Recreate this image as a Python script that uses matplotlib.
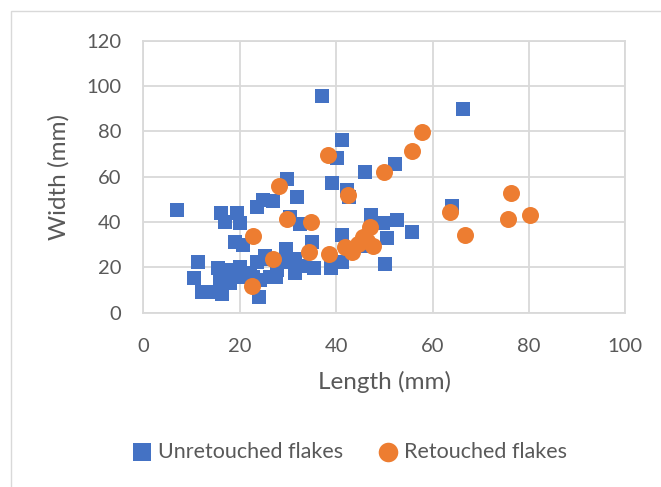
import matplotlib.pyplot as plt
from matplotlib.patches import Rectangle

# Flake dimensions (mm)
unretouched_length = [7.0, 10.5, 11.4, 12.1, 13.8, 16.3, 15.6, 15.9, 15.9, 17.3,
                      18.0, 19.4, 16.1, 19.4, 17.0, 20.1, 19.0, 20.7, 20.1, 20.5,
                      22.1, 22.7, 23.5, 24.2, 23.9, 25.2, 25.8, 26.3, 27.6, 27.7,
                      29.4, 29.6, 31.5, 31.5, 33.2, 35.4, 38.9, 41.2, 23.5, 24.9,
                      27.0, 29.8, 31.9, 30.4, 32.5, 34.9, 41.3, 37.0, 41.3, 40.1,
                      39.1, 42.2, 42.7, 46.0, 52.2, 47.2, 49.8, 52.7, 55.7, 50.5,
                      46.7, 50.1, 64.1, 66.3]
unretouched_width = [45.1, 15.3, 22.3, 9.2, 9.2, 8.3, 19.6, 14.4, 10.8, 18.8,
                     13.2, 18.1, 44.0, 44.0, 40.2, 39.6, 31.3, 29.8, 20.3, 15.6,
                     17.4, 15.6, 22.5, 14.4, 6.8, 25.0, 23.7, 15.9, 15.6, 18.8,
                     22.5, 27.9, 17.4, 23.7, 20.7, 19.6, 19.6, 22.2, 46.7, 49.6,
                     49.4, 59.0, 51.0, 42.3, 39.0, 31.0, 34.3, 95.8, 76.0, 68.2,
                     57.2, 54.3, 50.9, 62.1, 65.8, 43.0, 39.4, 41.0, 35.4, 33.0,
                     29.5, 21.5, 47.0, 89.7]

retouched_length = [22.5, 22.7, 27.0, 28.2, 29.8, 34.7, 34.3, 38.5, 38.3, 42.5,
                    41.8, 43.4, 44.6, 45.6, 47.0, 47.6, 46.5, 50.0, 55.7, 57.8,
                    63.7, 66.8, 75.6, 76.2, 80.3]
retouched_width = [11.7, 33.7, 23.8, 55.8, 41.5, 40.0, 26.6, 25.9, 69.4, 51.7,
                   29.0, 26.6, 30.3, 33.2, 38.0, 29.6, 31.5, 62.0, 71.2, 79.7,
                   44.2, 34.3, 41.3, 52.6, 43.1]

x_ticks = [0, 20, 40, 60, 80, 100]
y_ticks = [0, 20, 40, 60, 80, 100, 120]

BLUE = "#4472C4"
ORANGE = "#ED7D31"
TEXT = "#595959"
GRID = "#D9D9D9"

plt.rcParams["font.family"] = ["Lato", "DejaVu Sans"]

fig = plt.figure(figsize=(6.61, 4.87), dpi=100)
ax = fig.add_axes([0.2168, 0.358, 0.7292, 0.5584])

ax.scatter(unretouched_length, unretouched_width, marker="s", s=115,
           color=BLUE, linewidths=0, label="Unretouched flakes", zorder=3)
ax.scatter(retouched_length, retouched_width, marker="o", s=150,
           color=ORANGE, linewidths=0, label="Retouched flakes", zorder=4)

ax.set_xlim(0, 100)
ax.set_ylim(0, 120)
ax.set_xticks(x_ticks)
ax.set_yticks(y_ticks)
ax.grid(True, color=GRID, linewidth=1.3, zorder=0)
ax.set_axisbelow(True)
for side in ax.spines.values():
    side.set_color(GRID)
    side.set_linewidth(1.3)
ax.tick_params(length=0, labelsize=14.5, labelcolor=TEXT)
ax.tick_params(axis="x", pad=18)
ax.tick_params(axis="y", pad=16)

ax.set_xlabel("Length (mm)", fontsize=17.5, color=TEXT, labelpad=12)
ax.set_ylabel("Width (mm)", fontsize=17.5, color=TEXT, labelpad=12)

fig.legend(loc="center", bbox_to_anchor=(0.529, 0.072), ncol=2, frameon=False,
           fontsize=15.5, labelcolor=TEXT, handlelength=0.9, handletextpad=0.3,
           columnspacing=1.6, markerscale=1.15)

# chart-area frame
fig.patches.append(Rectangle((10.5 / 661, -0.1), 1.2, 1.1 - 10.7 / 487,
                             transform=fig.transFigure, fill=False,
                             edgecolor="#D9D9D9", linewidth=1.0))

fig.savefig("out.png", dpi=100)
